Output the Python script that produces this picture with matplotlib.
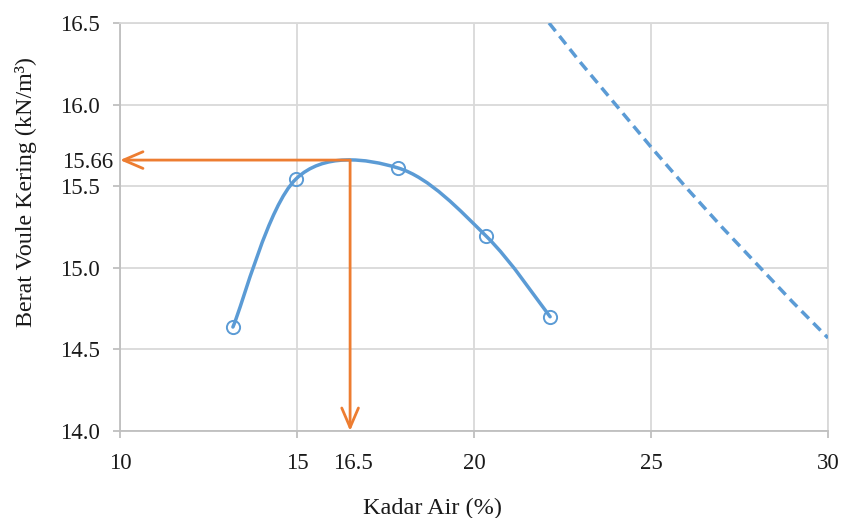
import matplotlib
matplotlib.use("Agg")
import matplotlib.pyplot as plt
from matplotlib.path import Path
from matplotlib.patches import PathPatch
import matplotlib.transforms as mtransforms
import numpy as np

plt.rcParams['font.family'] = ['Liberation Serif', 'DejaVu Serif']

# Data
moisture = [13.19, 14.97, 17.85, 20.34, 22.15]
dry_density = [14.637, 15.544, 15.612, 15.195, 14.70]

zav_moisture = [22.12, 23.0, 24.0, 25.0, 26.0, 27.0, 28.0, 29.0, 30.0]
zav_density = [16.50, 16.26, 16.00, 15.74, 15.49, 15.25, 15.02, 14.79, 14.57]

opt_moisture = 16.5
max_density = 15.66

x_ticks = [10, 15, 20, 25, 30]
y_ticks = [14.0, 14.5, 15.0, 15.5, 16.0, 16.5]

blue = '#5B9BD5'
orange = '#ED7D31'
grid_c = '#D9D9D9'
axis_c = '#BFBFBF'
text_c = '#1a1a1a'
fs = 16.5

fig = plt.figure(figsize=(8.42, 5.18), dpi=100)
ax = fig.add_axes([0.1425, 0.168, 0.8409, 0.7876])
ax.set_xlim(10, 30)
ax.set_ylim(14.0, 16.5)

ax.set_xticks(x_ticks)
ax.set_yticks(y_ticks)
ax.set_xticklabels([str(v) for v in x_ticks])
ax.set_yticklabels([f"{v:.1f}" for v in y_ticks])
# highlighted values as minor ticks (label only)
ax.set_xticks([opt_moisture], minor=True)
ax.set_xticklabels([f"{opt_moisture}"], minor=True)
ax.set_yticks([max_density], minor=True)
ax.set_yticklabels([f"{max_density:.2f}"], minor=True)

ax.grid(True, which='major', color=grid_c, linewidth=1.3, zorder=0)
ax.set_axisbelow(True)
for s in ['top', 'right']:
    ax.spines[s].set_color(grid_c)
    ax.spines[s].set_linewidth(1.3)
for s in ['left', 'bottom']:
    ax.spines[s].set_color(axis_c)
    ax.spines[s].set_linewidth(1.3)
ax.tick_params(axis='both', which='major', colors=axis_c, length=5, width=1.3,
               labelcolor=text_c, labelsize=fs)
ax.tick_params(axis='both', which='minor', length=0, labelcolor=text_c, labelsize=fs)
ax.tick_params(axis='x', which='major', pad=11)
ax.tick_params(axis='x', which='minor', pad=16)
ax.tick_params(axis='y', which='major', pad=9.5)
ax.tick_params(axis='y', which='minor', pad=5)
for lbl in ax.get_xticklabels(minor=True):
    lbl.set_transform(lbl.get_transform() +
                      mtransforms.ScaledTranslation(3 / 100, 0, fig.dpi_scale_trans))

# Excel-style smoothed line (Bezier through points)
P = np.column_stack([moisture, dry_density])
n = len(P)
verts = [tuple(P[0])]
codes = [Path.MOVETO]
for i in range(n - 1):
    p0 = P[max(i - 1, 0)]
    p1 = P[i]
    p2 = P[i + 1]
    p3 = P[min(i + 2, n - 1)]
    c1 = p1 + (p2 - p0) / 6.0
    c2 = p2 - (p3 - p1) / 6.0
    verts += [tuple(c1), tuple(c2), tuple(p2)]
    codes += [Path.CURVE4] * 3
ax.add_patch(PathPatch(Path(verts, codes), facecolor='none', edgecolor=blue,
                       linewidth=2.5, zorder=3, capstyle='round'))
ax.plot(moisture, dry_density, linestyle='none', marker='o', markersize=9.5,
        markerfacecolor='none', markeredgecolor=blue, markeredgewidth=1.4, zorder=4)

# Zero air voids line
ax.plot(zav_moisture, zav_density, color=blue, linewidth=2.5,
        linestyle=(0, (3.0, 1.8)), zorder=3)

# Orange arrows
arrow_kw = dict(arrowstyle='->,head_length=1.4,head_width=0.6', color=orange,
                linewidth=2.0, shrinkA=0, shrinkB=0)
ax.annotate('', xy=(10, max_density), xytext=(opt_moisture, max_density),
            arrowprops=arrow_kw, annotation_clip=False, zorder=5)
ax.annotate('', xy=(opt_moisture, 14.0), xytext=(opt_moisture, max_density),
            arrowprops=arrow_kw, annotation_clip=False, zorder=5)

ax.set_xlabel('Kadar Air (%)', fontsize=17.5, color=text_c, va='center')
ax.xaxis.set_label_coords(0.4407, -0.189)
ax.set_ylabel('Berat Voule Kering (kN/m³)', fontsize=17.3, color=text_c)
ax.yaxis.set_label_coords(-0.117, 0.586)

fig.savefig('out.png', dpi=100)
